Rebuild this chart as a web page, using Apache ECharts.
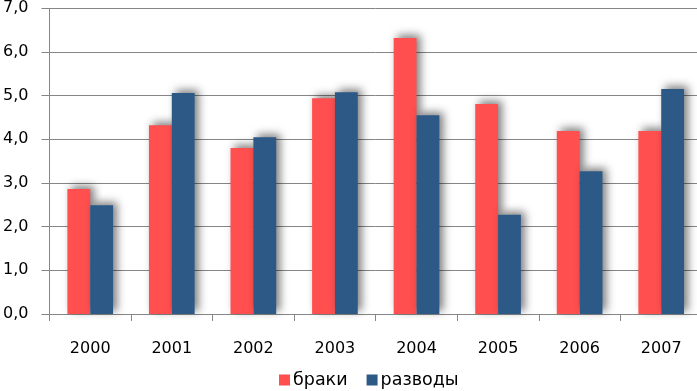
<!DOCTYPE html>
<html>
<head>
<meta charset="utf-8">
<script src="https://cdn.jsdelivr.net/npm/echarts@6/dist/echarts.min.js"></script>
<style>
html,body{margin:0;padding:0;background:#fff;overflow:hidden;width:697px;height:391px;}
#chart{width:705px;height:391px;}
</style>
</head>
<body>
<div id="chart"></div>
<script>
const categories = ['2000','2001','2002','2003','2004','2005','2006','2007'];
const marriages = [2.86, 4.32, 3.80, 4.94, 6.32, 4.81, 4.19, 4.19];
const divorces = [2.49, 5.06, 4.05, 5.08, 4.55, 2.27, 3.27, 5.15];
const seriesNames = ['браки', 'разводы'];
const yTicks = { min: 0, max: 7, interval: 1 };

const chart = echarts.init(document.getElementById('chart'), null, {renderer: 'canvas'});
const font = 'DejaVu Sans, Verdana, sans-serif';
const shadow = { shadowBlur: 8, shadowColor: 'rgba(0,0,0,0.5)', shadowOffsetX: 4, shadowOffsetY: -3 };
chart.setOption({
  animation: false,
  textStyle: { fontFamily: font },
  grid: { left: 48.7, width: 653.3, top: 8.3, height: 305.7, containLabel: false },
  legend: {
    left: 279, top: 371, padding: 0,
    itemWidth: 11, itemHeight: 11, itemGap: 19,
    textStyle: { fontSize: 17.5, color: '#000', fontFamily: font, padding: [0,0,0,-2] },
    data: seriesNames.map(n => ({ name: n, icon: 'rect' }))
  },
  xAxis: {
    type: 'category',
    data: categories,
    axisLine: { lineStyle: { color: '#868686', width: 1 } },
    axisTick: { show: true, length: 7, lineStyle: { color: '#868686' } },
    axisLabel: { fontSize: 16, color: '#000', margin: 27, fontFamily: font },
    splitLine: { show: false }
  },
  yAxis: {
    type: 'value',
    min: yTicks.min, max: yTicks.max, interval: yTicks.interval,
    axisLine: { show: true, lineStyle: { color: '#868686', width: 1 } },
    axisTick: { show: true, length: 8, lineStyle: { color: '#868686' } },
    axisLabel: { fontSize: 16, color: '#000', margin: 21, fontFamily: font,
      formatter: v => v.toFixed(1).replace('.', ',') },
    splitLine: { show: true, lineStyle: { color: '#868686', width: 1 } }
  },
  series: [
    { name: seriesNames[0], type: 'bar', data: marriages, barGap: '0%', barCategoryGap: '44%',
      itemStyle: Object.assign({ color: '#FF4F4F' }, shadow) },
    { name: seriesNames[1], type: 'bar', data: divorces, barGap: '0%', barCategoryGap: '44%',
      itemStyle: Object.assign({ color: '#2D5986' }, shadow) }
  ]
});
</script>
</body>
</html>
